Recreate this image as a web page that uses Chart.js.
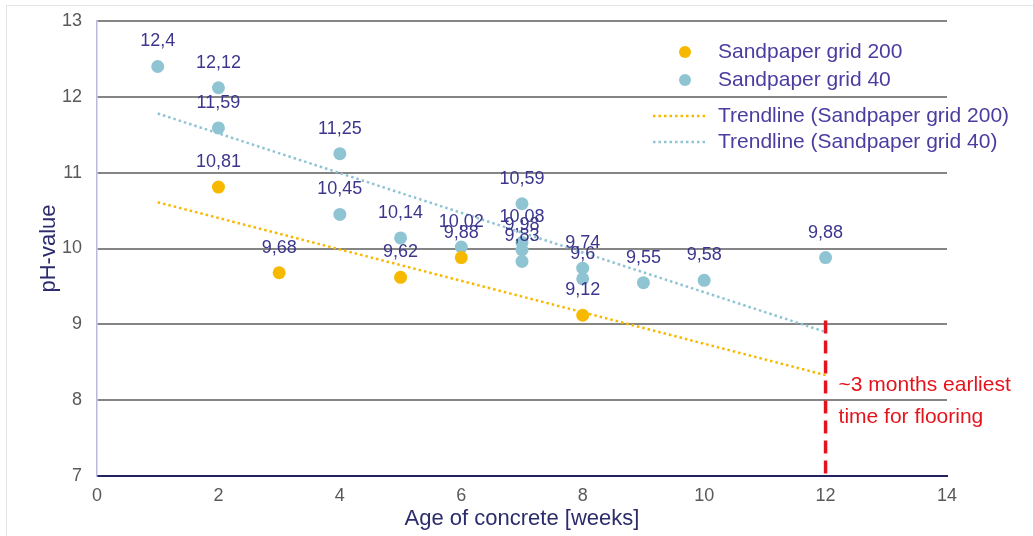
<!DOCTYPE html>
<html><head><meta charset="utf-8">
<script src="https://cdn.jsdelivr.net/npm/chart.js@4/dist/chart.umd.min.js"></script>
<style>
html,body{margin:0;padding:0;background:#fff;}
#wrap{position:relative;width:1033px;height:536px;}
#frame{position:absolute;left:6px;top:5px;width:1040px;height:540px;border-left:1px solid #e4e4e4;border-top:1px solid #e4e4e4;pointer-events:none;}
canvas{display:block;}
</style>
</head><body>
<div id="wrap"><canvas id="c" width="1033" height="536"></canvas><div id="frame"></div></div>
<script>
// ---- data ----
const seriesNames = ['Sandpaper grid 200', 'Sandpaper grid 40', 'Trendline (Sandpaper grid 200)', 'Trendline (Sandpaper grid 40)'];
const grid200X = [2, 3, 5, 6, 8];
const grid200Y = [10.81, 9.68, 9.62, 9.88, 9.12];
const grid40X = [1, 2, 2, 4, 4, 5, 6, 7, 7, 7, 7, 8, 8, 9, 10, 12];
const grid40Y = [12.4, 12.12, 11.59, 11.25, 10.45, 10.14, 10.02, 10.59, 10.08, 9.98, 9.83, 9.74, 9.6, 9.55, 9.58, 9.88];
const trend200X = [1, 12];
const trend200Y = [10.61, 8.33];
const trend40X = [1, 12];
const trend40Y = [11.78, 8.9];
const markerX = [12, 12];
const markerY = [9.05, 7];
const noteX = 12;
const noteY = [8.2, 7.78];
const noteLines = ['~3 months earliest', 'time for flooring'];
const xTitle = 'Age of concrete [weeks]';
const yTitle = 'pH-value';
const xMin = 0, xMax = 14, xStep = 2;
const yMin = 7, yMax = 13, yStep = 1;

const zip = (xs, ys) => xs.map((x, i) => ({x: x, y: ys[i]}));

const C_ORANGE = '#f7b900';
const C_BLUE = '#8fc4d3';
const C_TEXT = '#3c368c';
const C_LEGEND = '#4a3d9f';
const C_RED = '#e5141c';
const FONT = '"Liberation Sans", Arial, sans-serif';

const labelPlugin = {
  id: 'pointLabels',
  afterDatasetsDraw(chart) {
    const ctx = chart.ctx;
    ctx.save();
    ctx.font = '18px ' + FONT;
    ctx.fillStyle = C_TEXT;
    ctx.textAlign = 'center';
    ctx.textBaseline = 'middle';
    [0, 1].forEach(di => {
      const meta = chart.getDatasetMeta(di);
      const ds = chart.data.datasets[di];
      meta.data.forEach((el, i) => {
        const txt = String(ds.data[i].y).replace('.', ',');
        ctx.fillText(txt, el.x, el.y - 25);
      });
    });
    // annotation text
    const xs = chart.scales.x, ys = chart.scales.y;
    ctx.font = '21px ' + FONT;
    ctx.fillStyle = C_RED;
    ctx.textAlign = 'left';
    noteLines.forEach((t, i) => ctx.fillText(t, xs.getPixelForValue(noteX) + 13, ys.getPixelForValue(noteY[i])));
    ctx.restore();
  }
};

const legendPlugin = {
  id: 'customLegend',
  afterDraw(chart) {
    const ctx = chart.ctx;
    const ds = chart.data.datasets;
    const rows = [52, 80, 116, 142];
    ctx.save();
    ctx.font = '21px ' + FONT;
    ctx.textBaseline = 'middle';
    ctx.textAlign = 'left';
    for (let i = 0; i < 4; i++) {
      const y = rows[i];
      const d = ds[i];
      if (i < 2) {
        ctx.beginPath();
        ctx.fillStyle = d.backgroundColor;
        ctx.arc(685, y, 6, 0, Math.PI * 2);
        ctx.fill();
      } else {
        ctx.beginPath();
        ctx.strokeStyle = d.borderColor;
        ctx.lineWidth = 2.5;
        ctx.setLineDash(d.borderDash);
        ctx.moveTo(653, y);
        ctx.lineTo(707, y);
        ctx.stroke();
        ctx.setLineDash([]);
      }
      ctx.fillStyle = C_LEGEND;
      ctx.fillText(d.label, 718, y);
    }
    ctx.restore();
  }
};

new Chart(document.getElementById('c'), {
  type: 'scatter',
  data: {
    datasets: [
      {label: seriesNames[0], data: zip(grid200X, grid200Y), backgroundColor: C_ORANGE, borderWidth: 0, pointRadius: 6.5},
      {label: seriesNames[1], data: zip(grid40X, grid40Y), backgroundColor: C_BLUE, borderWidth: 0, pointRadius: 6.5},
      {label: seriesNames[2], data: zip(trend200X, trend200Y), showLine: true, borderColor: C_ORANGE, backgroundColor: C_ORANGE, borderWidth: 2.5, borderDash: [2.5, 3], pointRadius: 0, fill: false},
      {label: seriesNames[3], data: zip(trend40X, trend40Y), showLine: true, borderColor: C_BLUE, backgroundColor: C_BLUE, borderWidth: 2.5, borderDash: [2.5, 3], pointRadius: 0, fill: false},
      {label: 'marker', data: zip(markerX, markerY), showLine: true, borderColor: C_RED, borderWidth: 3.5, borderDash: [13, 7], pointRadius: 0, fill: false}
    ]
  },
  options: {
    responsive: false,
    animation: false,
    devicePixelRatio: 1,
    layout: {padding: {top: 21, right: 86, left: 0, bottom: 0}},
    plugins: {legend: {display: false}, tooltip: {enabled: false}},
    scales: {
      x: {
        type: 'linear', min: xMin, max: xMax,
        afterFit(s) { s.height = 60; s.paddingLeft = 0; s.paddingRight = 0; },
        ticks: {stepSize: xStep, color: '#595959', font: {family: FONT, size: 18}, padding: 9, maxRotation: 0},
        grid: {display: false, drawTicks: false},
        border: {display: true, color: '#22225e', width: 2},
        title: {display: true, text: xTitle, color: '#2c2c6c', font: {family: FONT, size: 22}, padding: {top: 0, bottom: 4}}
      },
      y: {
        type: 'linear', min: yMin, max: yMax,
        afterFit(s) { s.width = 97; s.paddingTop = 0; s.paddingBottom = 0; },
        ticks: {stepSize: yStep, color: '#595959', font: {family: FONT, size: 18}, padding: 15},
        grid: {color: ctx => ctx.tick && ctx.tick.value === yMin ? 'rgba(0,0,0,0)' : '#858585', lineWidth: 2, drawTicks: false},
        border: {display: true, color: '#b8b8e0', width: 1.5},
        title: {display: true, text: yTitle, color: '#2c2c6c', font: {family: FONT, size: 22}, padding: {top: 36, bottom: 0}}
      }
    }
  },
  plugins: [labelPlugin, legendPlugin]
});
</script>
</body></html>
